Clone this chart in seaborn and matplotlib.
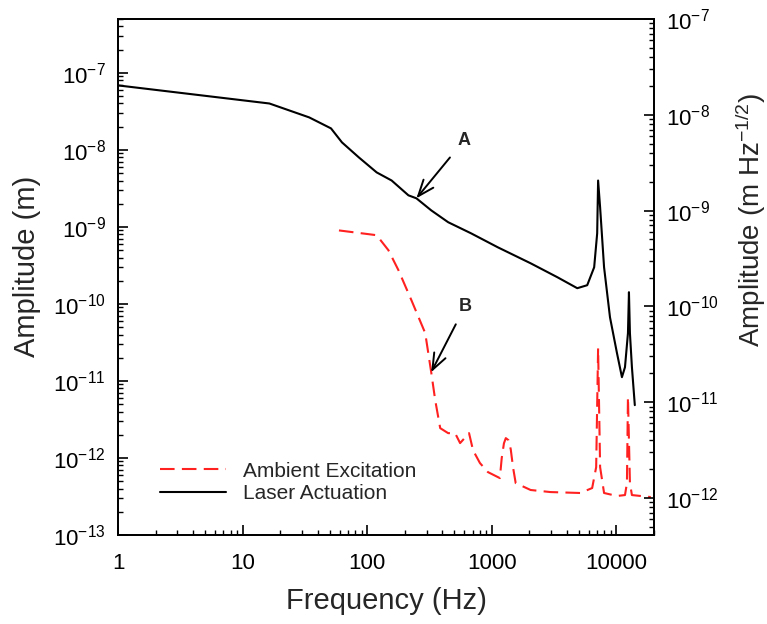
import numpy as np
import pandas as pd
import matplotlib
matplotlib.use("Agg")
import matplotlib.pyplot as plt
import seaborn as sns
from matplotlib.ticker import FixedLocator, FuncFormatter, NullFormatter, LogLocator

# ---------------- data ----------------
laser_freq = [1, 16.4, 34.2, 51.2, 62.7, 85.5, 119, 157, 214, 248, 326, 446, 680,
              1117, 2046, 3357, 4845, 5823, 6620, 7000, 7120, 7390, 7950, 8870,
              10090, 11060, 11700, 12360, 12590, 12820, 13300, 14030]
laser_amp = [6.87e-8, 4.0e-8, 2.64e-8, 1.90e-8, 1.25e-8, 8.0e-9, 5.1e-9, 4.0e-9,
             2.57e-9, 2.35e-9, 1.64e-9, 1.15e-9, 8.26e-10, 5.43e-10, 3.37e-10,
             2.22e-10, 1.60e-10, 1.75e-10, 2.99e-10, 8.26e-10, 4.0e-9, 1.79e-9,
             2.99e-10, 6.7e-11, 2.3e-11, 1.12e-11, 1.51e-11, 4.17e-11, 1.42e-10,
             4.17e-11, 1.51e-11, 4.85e-12]

ambient_freq = [59.3, 119, 148, 178, 226, 292, 326, 351, 385, 446, 507, 556, 656,
                706, 802, 929, 1159, 1200, 1250, 1294, 1360, 1417, 1480, 1553, 2046,
                2951, 5117, 6380, 6870, 7120, 7390, 7950, 10090, 11700, 12130,
                12360, 12820, 13300, 18840]
ambient_amp = [9.0e-10, 7.8e-10, 4.97e-10, 2.74e-10, 1.12e-10, 4.17e-11, 1.3e-11,
               5.64e-12, 2.44e-12, 2.10e-12, 2.10e-12, 1.56e-12, 2.10e-12, 1.26e-12,
               8.6e-13, 6.56e-13, 5.48e-13, 1.0e-12, 1.55e-12, 1.81e-12, 1.7e-12,
               1.3e-12, 7.5e-13, 4.72e-13, 3.84e-13, 3.61e-13, 3.51e-13, 4.07e-13,
               7.6e-13, 2.66e-11, 7.6e-13, 3.51e-13, 3.21e-13, 3.30e-13, 4.72e-13,
               6.17e-12, 4.72e-13, 3.30e-13, 3.11e-13]

series_names = ["Ambient Excitation", "Laser Actuation"]
x_ticks = [1, 10, 100, 1000, 10000]
x_tick_labels = ["1", "10", "100", "1000", "10000"]
left_exponents = [-13, -12, -11, -10, -9, -8, -7]
right_exponents = [-12, -11, -10, -9, -8, -7]

# annotations: (label, arrow tip freq, tip amp, text freq, text amp)
annot_A = ("A", 248, 2.35e-9, 598, 1.33e-8)
annot_B = ("B", 326, 1.3e-11, 609, 9.3e-11)

df = pd.concat([
    pd.DataFrame({"freq": ambient_freq, "amp": ambient_amp, "series": series_names[0]}),
    pd.DataFrame({"freq": laser_freq, "amp": laser_amp, "series": series_names[1]}),
], ignore_index=True)

# ---------------- style ----------------
sns.set_style("ticks")
plt.rcParams["font.family"] = ["Liberation Sans", "DejaVu Sans"]
plt.rcParams["mathtext.fontset"] = "custom"
plt.rcParams["mathtext.rm"] = "Liberation Sans"
plt.rcParams["mathtext.it"] = "Liberation Sans:italic"
plt.rcParams["mathtext.bf"] = "Liberation Sans:bold"
plt.rcParams["mathtext.default"] = "regular"

fig = plt.figure(figsize=(7.67, 6.24), dpi=100)
ax = fig.add_axes([118 / 767, 1 - 535 / 624, 536 / 767, 516 / 624])

sns.lineplot(data=df, x="freq", y="amp", hue="series", style="series",
             hue_order=series_names, style_order=series_names,
             palette={series_names[0]: "#ff2020", series_names[1]: "black"},
             dashes={series_names[0]: (7, 3.5), series_names[1]: ""},
             estimator=None, sort=False, linewidth=1.5, ax=ax)

ax.set_xscale("log")
ax.set_yscale("log")
ax.set_xlim(1, 20000)
ax.set_ylim(1e-13, 5e-7)

ax.xaxis.set_major_locator(FixedLocator(x_ticks))
ax.xaxis.set_major_formatter(FuncFormatter(lambda v, p: x_tick_labels[x_ticks.index(int(round(v)))] if int(round(v)) in x_ticks else ""))
ax.xaxis.set_minor_locator(LogLocator(base=10, subs=np.arange(2, 10), numticks=20))
ax.xaxis.set_minor_formatter(NullFormatter())

ax.yaxis.set_major_locator(FixedLocator([10.0 ** e for e in left_exponents]))
ax.yaxis.set_major_formatter(FuncFormatter(lambda v, p: r"$10^{%d}$" % int(round(np.log10(v)))))
ax.yaxis.set_minor_locator(LogLocator(base=10, subs=np.arange(2, 10), numticks=20))
ax.yaxis.set_minor_formatter(NullFormatter())

ax.tick_params(which="both", direction="in", top=False, right=False, colors="black")
ax.tick_params(which="major", length=7, width=1.2, labelsize=16, pad=9)
ax.tick_params(which="minor", length=3.5, width=1.0)
ax.tick_params(axis="x", which="major", pad=13)

for sp in ax.spines.values():
    sp.set_visible(True)
    sp.set_linewidth(1.3)
    sp.set_color("black")

ax.set_xlabel("Frequency (Hz)", fontsize=21)
ax.set_ylabel("Amplitude (m)", fontsize=21)
ax.xaxis.set_label_coords(0.5, -0.100)
ax.yaxis.set_label_coords(-0.143, 0.52)

# right axis
ax2 = ax.twinx()
ax2.set_yscale("log")
ax2.set_ylim(4.1e-13, 1e-7)
ax2.yaxis.set_major_locator(FixedLocator([10.0 ** e for e in right_exponents]))
ax2.yaxis.set_major_formatter(FuncFormatter(lambda v, p: r"$10^{%d}$" % int(round(np.log10(v)))))
ax2.yaxis.set_minor_locator(LogLocator(base=10, subs=np.arange(2, 10), numticks=20))
ax2.yaxis.set_minor_formatter(NullFormatter())
ax2.tick_params(which="both", direction="in", colors="black")
ax2.tick_params(which="major", length=7, width=1.2, labelsize=16, pad=9)
ax2.tick_params(which="minor", length=3.5, width=1.0)
ax2.set_ylabel(r"Amplitude (m Hz$^{-1/2}$)", fontsize=20)
ax2.yaxis.set_label_coords(1.148, 0.61)
for sp in ax2.spines.values():
    sp.set_linewidth(1.3)
    sp.set_color("black")

# legend
handles, labels = ax.get_legend_handles_labels()
ax.legend(handles, labels, loc="upper left", bbox_to_anchor=(0.078, 0.142),
          frameon=False, fontsize=15, handlelength=3.2, handletextpad=0.8,
          labelspacing=0.15, borderpad=0, borderaxespad=0)

# annotations
for lab, fx, fy, tx, ty in (annot_A, annot_B):
    ax.annotate(lab, xy=(fx, fy), xytext=(tx, ty), ha="center", va="center",
                fontsize=13, fontweight="bold",
                arrowprops=dict(arrowstyle="->,head_length=0.9,head_width=0.35",
                                lw=1.4, color="black", shrinkA=5, shrinkB=0))

fig.savefig("out.png", dpi=100)
